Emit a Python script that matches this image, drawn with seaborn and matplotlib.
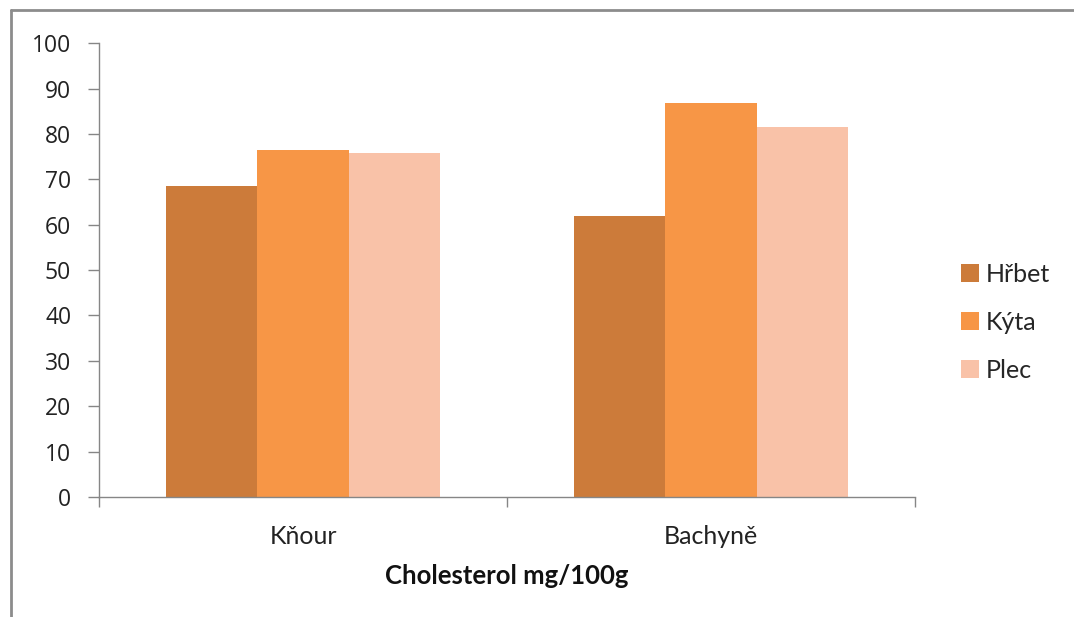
import matplotlib
matplotlib.use("Agg")
import matplotlib.pyplot as plt
from matplotlib.lines import Line2D
import seaborn as sns
import pandas as pd

# Cholesterol content (mg/100 g) per sex and cut
categories = ["Kňour", "Bachyně"]
cuts = ["Hřbet", "Kýta", "Plec"]
hrbet = [68.5, 61.9]
kyta = [76.4, 86.8]
plec = [75.7, 81.6]
yticks = [0, 10, 20, 30, 40, 50, 60, 70, 80, 90, 100]
xlabel = "Cholesterol mg/100g"

colors = ["#CC7B3A", "#F79646", "#F9C2A8"]

df = pd.DataFrame({
    "kategorie": categories * 3,
    "cast": [c for c in cuts for _ in categories],
    "hodnota": hrbet + kyta + plec,
})

sns.set_style("white")
plt.rcParams["font.family"] = ["Lato", "DejaVu Sans"]

fig = plt.figure(figsize=(10.74, 6.17), dpi=100)
ax = fig.add_axes([0.0922, 0.1945, 0.7598, 0.7355])

sns.barplot(data=df, x="kategorie", y="hodnota", hue="cast",
            order=categories, hue_order=cuts, palette=colors,
            width=0.67, saturation=1, ax=ax, legend=True)

ax.set_ylim(0, 100)
ax.set_xlim(-0.5, 1.5)
ax.set_yticks(yticks)
ax.set_yticklabels([str(v) for v in yticks], fontsize=16.5, color="#222222",
                   family=["Open Sans", "DejaVu Sans"])
ax.tick_params(axis="y", direction="out", length=8, width=1, color="#868686",
               pad=12, left=True)

# category boundaries carry the ticks, names sit on minor ticks
ax.set_xticks([-0.5, 0.5, 1.5])
ax.set_xticklabels([])
ax.set_xticks([0, 1], minor=True)
ax.set_xticklabels(categories, minor=True, fontsize=18, color="#222222")
ax.tick_params(axis="x", which="major", direction="out", length=7, width=1,
               color="#868686", bottom=True)
ax.tick_params(axis="x", which="minor", length=0, pad=20)

ax.set_xlabel(xlabel, fontsize=18.5, fontweight="bold", labelpad=12, color="#111111")
ax.set_ylabel("")

for s in ["top", "right"]:
    ax.spines[s].set_visible(False)
for s in ["left", "bottom"]:
    ax.spines[s].set_color("#868686")
    ax.spines[s].set_linewidth(1)

for p in ax.patches:
    p.set_edgecolor("none")

handles, labels = ax.get_legend_handles_labels()
ax.get_legend().remove()
fig.legend(handles, labels, loc="center left", bbox_to_anchor=(0.8735, 0.478),
           frameon=False, fontsize=18, handlelength=0.72, handleheight=0.72,
           handletextpad=0.3, labelspacing=1.0)

# outer chart frame
fig.add_artist(Line2D([0.0105, 0.0105], [0.0, 0.984], transform=fig.transFigure,
                      color="#8c8c8c", linewidth=2))
fig.add_artist(Line2D([0.0105, 1.0], [0.984, 0.984], transform=fig.transFigure,
                      color="#8c8c8c", linewidth=2))

fig.savefig("out.png", dpi=100, facecolor="white")
